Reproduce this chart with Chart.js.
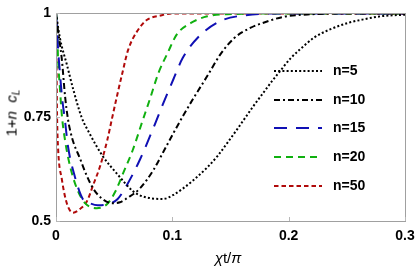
<!DOCTYPE html>
<html>
<head>
<meta charset="utf-8">
<script src="https://cdn.jsdelivr.net/npm/chart.js@4.4.0/dist/chart.umd.min.js"></script>
<style>
  html, body { margin: 0; padding: 0; background: #fff; }
  #wrap { position: relative; width: 415px; height: 271px; overflow: hidden; }
  #c { position: absolute; left: 0; top: 0; }
  .ytitle { position: absolute; left: 12px; top: 113px; transform: translate(-50%, -50%) rotate(-90deg);
    font-family: "Liberation Sans", Arial, sans-serif; font-size: 15px; color: #000; white-space: nowrap; }
  .ytitle sub { font-size: 10px; vertical-align: -3px; font-style: italic; }
  .xtitle { position: absolute; left: 228px; top: 257px; transform: translate(-50%, -50%);
    font-family: "Liberation Sans", Arial, sans-serif; font-size: 15px; color: #000; white-space: nowrap; }
  #legend { position: absolute; left: 272px; top: 61px; font-family: "Liberation Sans", Arial, sans-serif;
    font-size: 14px; font-weight: bold; color: #000; }
  .row { position: absolute; left: 0; height: 20px; width: 100px; }
  .row svg { position: absolute; left: 0; top: 4px; }
  .row span { position: absolute; left: 61px; top: 1px; }
</style>
</head>
<body>
<div id="wrap">
  <canvas id="c" width="415" height="271"></canvas>
  <div class="ytitle">1+<i>n</i>&nbsp;&nbsp;<i>c</i><sub>L</sub></div>
  <div class="xtitle"><i>χ</i>t/<i>π</i></div>
  <div id="legend"></div>
</div>
<script>
// ---- data ----
const labels = ["n=5", "n=10", "n=15", "n=20", "n=50"];

const x5  = [0, 0.0034, 0.0095, 0.015, 0.022, 0.029, 0.040, 0.053, 0.066, 0.072, 0.081, 0.092, 0.101, 0.109, 0.118, 0.130, 0.139, 0.147, 0.156, 0.163, 0.170, 0.178, 0.186, 0.194, 0.202, 0.210, 0.222, 0.236, 0.251, 0.265, 0.279, 0.300];
const y5  = [1, 0.94, 0.875, 0.815, 0.75, 0.71, 0.657, 0.612, 0.572, 0.562, 0.555, 0.553, 0.563, 0.578, 0.598, 0.629, 0.657, 0.687, 0.722, 0.750, 0.778, 0.808, 0.838, 0.866, 0.893, 0.914, 0.942, 0.962, 0.977, 0.986, 0.993, 0.997];

const x10 = [0, 0.0017, 0.005, 0.0078, 0.0103, 0.0138, 0.0207, 0.026, 0.032, 0.040, 0.048, 0.055, 0.061, 0.072, 0.084, 0.092, 0.101, 0.109, 0.118, 0.130, 0.141, 0.153, 0.167, 0.182, 0.196, 0.22, 0.25, 0.3];
const y10 = [1, 0.96, 0.89, 0.80, 0.745, 0.70, 0.65, 0.612, 0.578, 0.553, 0.543, 0.545, 0.555, 0.578, 0.624, 0.665, 0.712, 0.752, 0.795, 0.849, 0.900, 0.940, 0.965, 0.981, 0.992, 0.998, 1, 1];

const x15 = [0, 0.0009, 0.0017, 0.0034, 0.005, 0.0078, 0.0103, 0.0164, 0.023, 0.029, 0.036, 0.044, 0.053, 0.061, 0.072, 0.084, 0.092, 0.101, 0.109, 0.122, 0.141, 0.161, 0.2, 0.3];
const y15 = [1, 0.965, 0.919, 0.856, 0.803, 0.74, 0.68, 0.605, 0.553, 0.543, 0.538, 0.540, 0.553, 0.587, 0.647, 0.726, 0.782, 0.842, 0.893, 0.942, 0.981, 0.995, 1, 1];

const x20 = [0, 0.0009, 0.0017, 0.0034, 0.005, 0.0078, 0.012, 0.018, 0.025, 0.035, 0.044, 0.051, 0.058, 0.066, 0.074, 0.081, 0.088, 0.096, 0.104, 0.116, 0.130, 0.147, 0.2, 0.3];
const y20 = [1, 0.972, 0.896, 0.819, 0.756, 0.694, 0.633, 0.578, 0.543, 0.531, 0.541, 0.571, 0.617, 0.671, 0.738, 0.796, 0.856, 0.905, 0.950, 0.977, 0.993, 0.998, 1, 1];

const x50 = [0, 0.0005, 0.0009, 0.0017, 0.005, 0.0095, 0.0147, 0.0207, 0.0267, 0.032, 0.038, 0.044, 0.048, 0.0526, 0.057, 0.062, 0.070, 0.078, 0.090, 0.1, 0.3];
const y50 = [1, 0.86, 0.756, 0.68, 0.601, 0.541, 0.520, 0.529, 0.548, 0.587, 0.633, 0.694, 0.745, 0.803, 0.856, 0.912, 0.958, 0.984, 0.995, 1, 1];

const xTicks = [0, 0.1, 0.2, 0.3];
const yTicks = [0.5, 0.75, 1];

// ---- styles ----
const colors = ["#000000", "#000000", "#1010b4", "#10b010", "#b00a0a"];
const dashes = [[2, 2.2], [6, 3, 2, 3], [13, 9], [7, 5], [4.5, 3]];

function pts(xs, ys) { return xs.map((x, i) => ({ x: x, y: ys[i] })); }
const series = [[x5, y5], [x10, y10], [x15, y15], [x20, y20], [x50, y50]];

const datasets = series.map((s, i) => ({
  label: labels[i],
  data: pts(s[0], s[1]),
  borderColor: colors[i],
  borderWidth: 2,
  borderDash: dashes[i],
  pointRadius: 0,
  fill: false,
  cubicInterpolationMode: 'monotone'
}));

const frame = {
  id: 'frame',
  afterDraw(chart) {
    const { ctx, chartArea: a, scales } = chart;
    ctx.save();
    ctx.strokeStyle = '#a0a0a0';
    ctx.lineWidth = 1;
    ctx.strokeRect(Math.round(a.left) + 0.5, Math.round(a.top) + 0.5, Math.round(a.right - a.left), Math.round(a.bottom - a.top));
    ctx.strokeStyle = '#b8b8b8';
    xTicks.forEach(v => {
      const px = Math.round(scales.x.getPixelForValue(v)) + 0.5;
      ctx.beginPath(); ctx.moveTo(px, a.bottom); ctx.lineTo(px, a.bottom - 4); ctx.stroke();
    });
    yTicks.forEach(v => {
      const py = Math.round(scales.y.getPixelForValue(v)) + 0.5;
      ctx.beginPath(); ctx.moveTo(a.left, py); ctx.lineTo(a.left + 4, py); ctx.stroke();
    });
    ctx.restore();
  }
};

const tickFont = { family: '"Liberation Sans", Arial, sans-serif', size: 14, weight: 'bold' };

new Chart(document.getElementById('c'), {
  type: 'line',
  data: { datasets: datasets },
  options: {
    responsive: false,
    animation: false,
    devicePixelRatio: 1,
    layout: { padding: { left: 0, right: 10, top: 5, bottom: 0 } },
    plugins: { legend: { display: false }, tooltip: { enabled: false } },
    scales: {
      x: {
        type: 'linear', min: 0, max: 0.3,
        afterBuildTicks: s => { s.ticks = xTicks.map(v => ({ value: v })); },
        afterFit: s => { s.height = 50; s.paddingRight = 0; },
        ticks: { font: tickFont, color: '#000', padding: 7, maxRotation: 0,
          callback: v => String(v) },
        grid: { display: false, drawTicks: false },
        border: { display: false }
      },
      y: {
        type: 'linear', min: 0.5, max: 1,
        afterBuildTicks: s => { s.ticks = yTicks.map(v => ({ value: v })); },
        afterFit: s => { s.width = 56; },
        ticks: { font: tickFont, color: '#000', padding: 5,
          callback: v => String(v) },
        grid: { display: false, drawTicks: false },
        border: { display: false }
      }
    }
  },
  plugins: [frame]
});

// ---- HTML legend ----
const leg = document.getElementById('legend');
labels.forEach((lab, i) => {
  const row = document.createElement('div');
  row.className = 'row';
  row.style.top = (i * 28.7) + 'px';
  row.innerHTML = '<svg width="50" height="12"><line x1="2" y1="6" x2="50" y2="6" stroke="' + colors[i] +
    '" stroke-width="2" stroke-dasharray="' + dashes[i].join(' ') + '"/></svg><span>' + lab + '</span>';
  leg.appendChild(row);
});
</script>
</body>
</html>
